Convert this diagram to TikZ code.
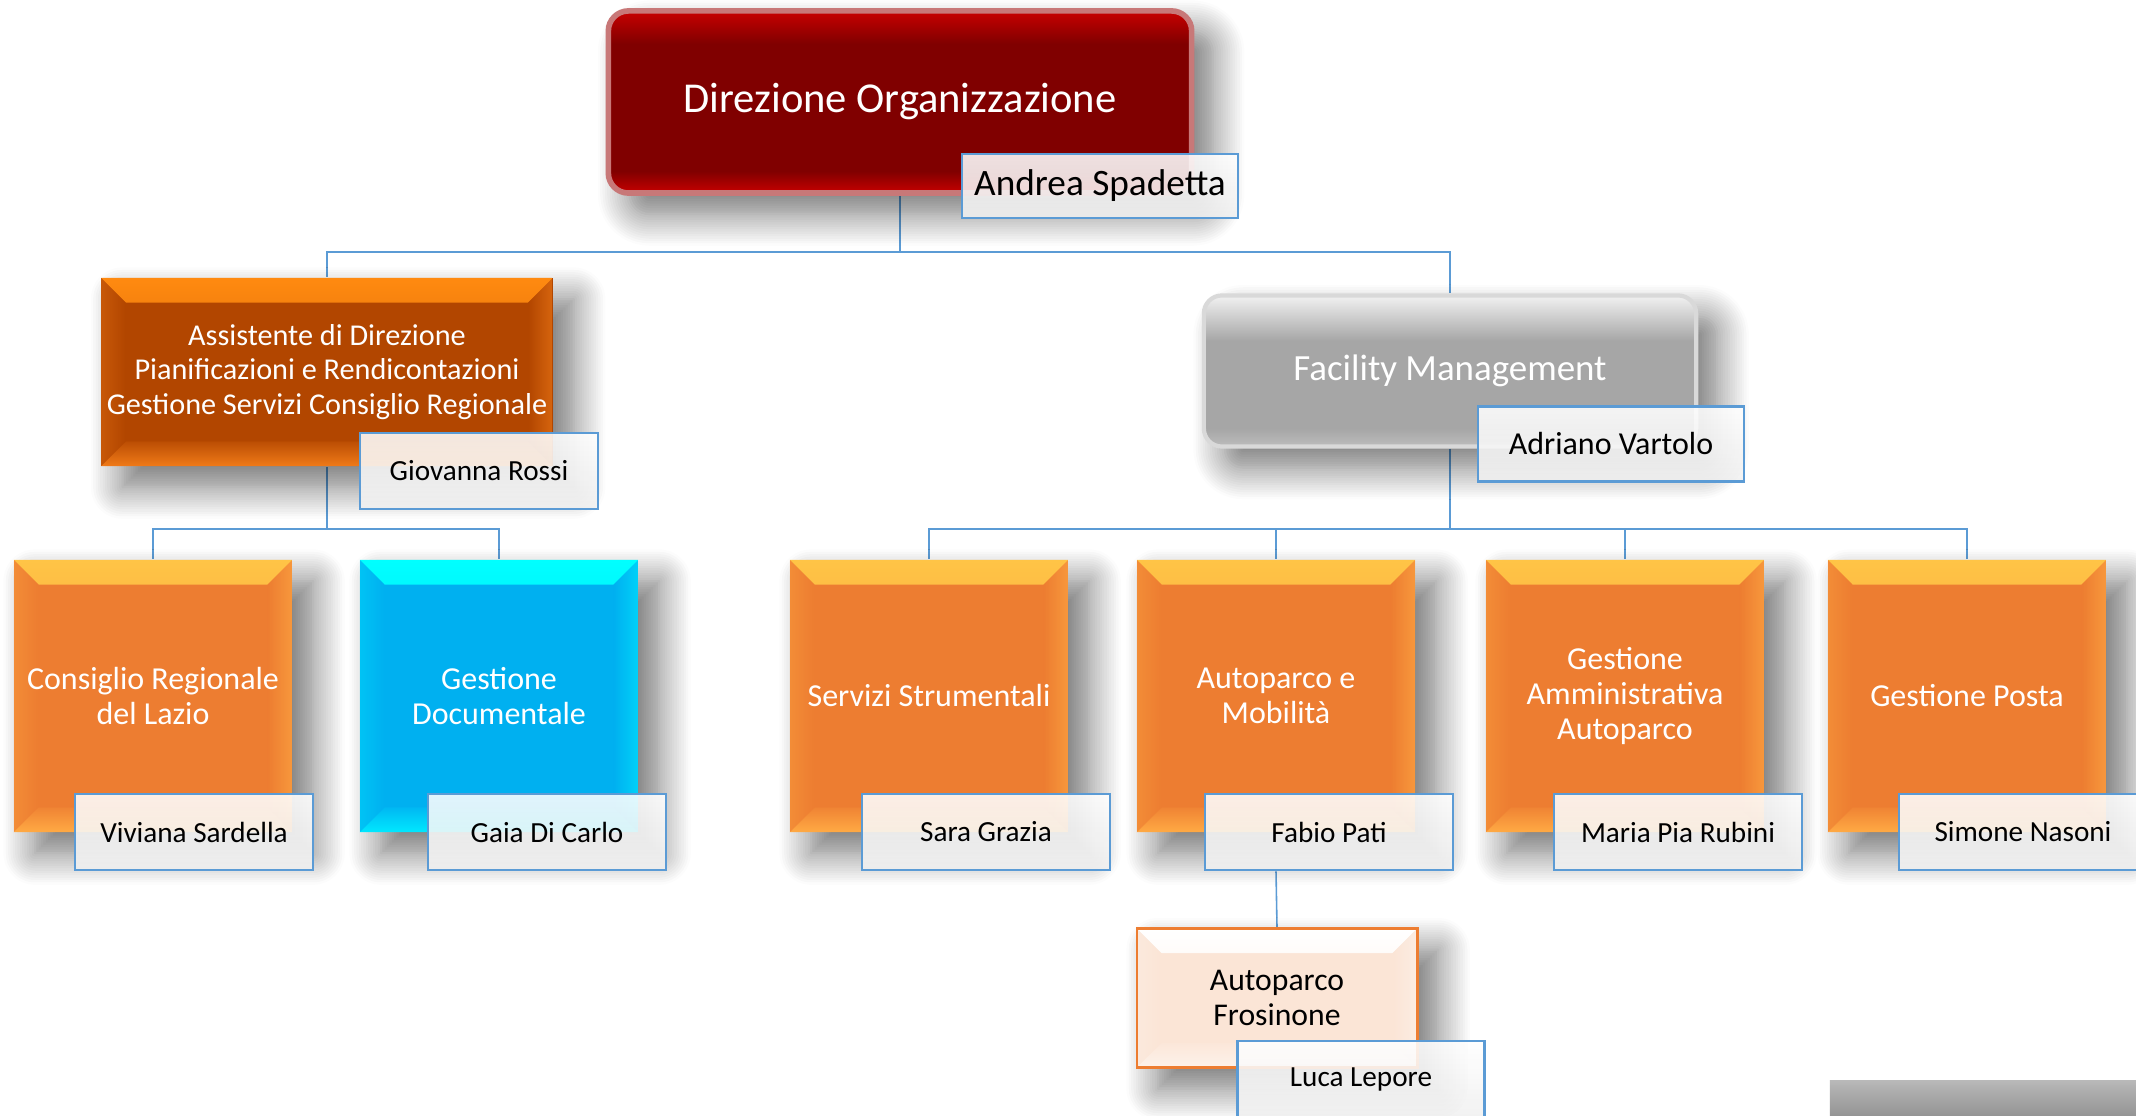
\documentclass[tikz,border=0pt]{standalone}
\usepackage{fontspec}
\setmainfont{Carlito}
\usetikzlibrary{shadows.blur}
\usetikzlibrary{backgrounds}

\definecolor{dirred}{HTML}{800000}
\definecolor{dirtop}{HTML}{C80000}
\definecolor{dirglow}{HTML}{C87878}
\definecolor{asstorange}{HTML}{B24600}
\definecolor{assttop}{HTML}{FF8A10}
\definecolor{asstbot}{HTML}{F07A18}
\definecolor{unitorange}{HTML}{ED7D31}
\definecolor{unittop}{HTML}{FFC446}
\definecolor{unitbot}{HTML}{FFAA44}
\definecolor{unitblue}{HTML}{00B0F0}
\definecolor{bluetop}{HTML}{00FFFF}
\definecolor{bluebot}{HTML}{00E8FF}
\definecolor{facgray}{HTML}{A6A6A6}
\definecolor{linkblue}{HTML}{5B9BD5}
\definecolor{frospeach}{HTML}{FBE5D6}

\pgfdeclareverticalshading{dirshade}{100bp}{color(0bp)=(dirtop); color(25bp)=(dirtop); color(31bp)=(dirred); color(66bp)=(dirred); color(75bp)=(dirtop); color(100bp)=(dirtop)}
\pgfdeclareverticalshading{facshade}{100bp}{color(0bp)=(facgray!75!white); color(25bp)=(facgray!75!white); color(31bp)=(facgray); color(60bp)=(facgray); color(75bp)=(facgray!15!white); color(100bp)=(facgray!15!white)}

\begin{document}
\begin{tikzpicture}[
    x=0.01cm, y=-0.01cm,
    link/.style={draw=linkblue, line width=0.45pt},
    softshadow/.style={blur shadow={shadow xshift=6pt, shadow yshift=-6pt,
      shadow blur radius=9pt, shadow blur steps=14, shadow opacity=55}},
    bevel/.style n args={3}{path picture={
      \shade[top color=#2, bottom color=#1!80!#2] (path picture bounding box.north west) -- (path picture bounding box.north east) -- ([shift={(-7pt,-7pt)}]path picture bounding box.north east) -- ([shift={(7pt,-7pt)}]path picture bounding box.north west) -- cycle;
      \shade[top color=#1!85!#3, bottom color=#3] ([shift={(7pt,7pt)}]path picture bounding box.south west) -- ([shift={(-7pt,7pt)}]path picture bounding box.south east) -- (path picture bounding box.south east) -- (path picture bounding box.south west) -- cycle;
      \shade[left color=#1, right color=#3, opacity=.6] ([shift={(-7pt,-7pt)}]path picture bounding box.north east) -- (path picture bounding box.north east) -- (path picture bounding box.south east) -- ([shift={(-7pt,7pt)}]path picture bounding box.south east) -- cycle;
      \shade[left color=#3, right color=#1, opacity=.35] (path picture bounding box.north west) -- ([shift={(7pt,-7pt)}]path picture bounding box.north west) -- ([shift={(7pt,7pt)}]path picture bounding box.south west) -- (path picture bounding box.south west) -- cycle;
    }},
    topbox/.style={rounded corners=0.2cm, shading=dirshade, draw=dirglow, line width=1.6pt,
      minimum width=5.83cm, minimum height=1.82cm, text=white,
      font=\fontsize{12.1}{14}\selectfont, softshadow},
    facbox/.style={rounded corners=0.18cm, shading=facshade, draw=black!15, line width=1.2pt,
      minimum width=4.92cm, minimum height=1.51cm, text=white,
      font=\fontsize{10.5}{12}\selectfont, softshadow},
    asstbox/.style={fill=asstorange, minimum width=4.51cm, minimum height=1.88cm, inner sep=1pt,
      text=white, align=center, font=\fontsize{8.6}{9.9}\selectfont, softshadow,
      bevel={asstorange}{assttop}{asstbot}},
    unitbox/.style={fill=unitorange, minimum width=2.78cm, minimum height=2.72cm,
      text=white, align=center, font=\fontsize{9.1}{9.9}\selectfont, softshadow,
      bevel={unitorange}{unittop}{unitbot}},
    bluebox/.style={unitbox, fill=unitblue, bevel={unitblue}{bluetop}{bluebot}},
    frosbox/.style={fill=frospeach, draw=unitorange, line width=0.8pt,
      minimum width=2.8cm, minimum height=1.39cm, align=center,
      font=\fontsize{9}{9.7}\selectfont, softshadow,
      bevel={frospeach}{white}{white!50!frospeach}},
    namebox/.style={draw=linkblue, line width=0.75pt, top color=white, bottom color=black!6,
      fill opacity=.88, text opacity=1, text=black, minimum width=2.48cm, minimum height=0.76cm,
      font=\fontsize{8.3}{10}\selectfont},
    cutbox/.style={top color=black!28, bottom color=black!52, minimum width=3.2cm, minimum height=0.6cm}
  ]
  \useasboundingbox (0,0) rectangle (2136,1116);

  % Direzione
  \node[topbox] (dir) at (900,102) {Direzione Organizzazione};
  \node[namebox, minimum width=2.76cm, minimum height=0.64cm, font=\fontsize{10.6}{12}\selectfont] (andrea) at (1100,186) {Andrea Spadetta};

  % primo livello
  \node[asstbox] (asst) at (327,372) {Assistente di Direzione\\Pianificazioni e Rendicontazioni\\Gestione Servizi Consiglio Regionale};
  \node[namebox, minimum width=2.38cm] (giovanna) at (479,471) {Giovanna Rossi};

  \node[facbox] (fac) at (1450,371) {Facility Management};
  \node[namebox, minimum width=2.66cm, minimum height=0.75cm, font=\fontsize{9.1}{10}\selectfont] (adriano) at (1611,444) {Adriano Vartolo};

  % secondo livello
  \node[unitbox] (consiglio) at (153,696) {Consiglio Regionale\\del Lazio};
  \node[namebox, minimum width=2.38cm] (viviana) at (194,832) {Viviana Sardella};

  \node[bluebox] (gestdoc) at (499,696) {Gestione\\Documentale};
  \node[namebox, minimum width=2.38cm] (gaia) at (547,832) {Gaia Di Carlo};

  \node[unitbox] (servizi) at (929,696) {Servizi Strumentali};
  \node[namebox] (sara) at (986,832) {Sara Grazia};

  \node[unitbox] (autoparco) at (1276,696) {Autoparco e\\Mobilità};
  \node[namebox] (fabio) at (1329,832) {Fabio Pati};

  \node[unitbox] (gestamm) at (1625,696) {Gestione\\Amministrativa\\Autoparco};
  \node[namebox] (maria) at (1678,832) {Maria Pia Rubini};

  \node[unitbox] (posta) at (1967,696) {Gestione Posta};
  \node[namebox] (simone) at (2023,832) {Simone Nasoni};

  % terzo livello
  \node[frosbox] (fros) at (1277,998) {Autoparco\\Frosinone};
  \node[namebox, minimum width=2.47cm] (luca) at (1361,1079) {Luca Lepore};

  \node[cutbox] (cut) at (1990,1111) {};

  \begin{scope}[on background layer]
    \draw[link] (dir.south) -- ++(0,56) coordinate (j0) -| (asst.north);
    \draw[link] (j0) -| (fac.north);
    \draw[link] (asst.south) -- (asst.south |- 0,529) coordinate (j1) -| (consiglio.north);
    \draw[link] (j1) -| (gestdoc.north);
    \draw[link] (fac.south) -- (fac.south |- 0,529) coordinate (j2) -| (servizi.north);
    \draw[link] (j2) -| (autoparco.north);
    \draw[link] (j2) -| (gestamm.north);
    \draw[link] (j2) -| (posta.north);
    \draw[link] (autoparco.south |- fabio.south) -- (fros.north);
  \end{scope}
\end{tikzpicture}
\end{document}
